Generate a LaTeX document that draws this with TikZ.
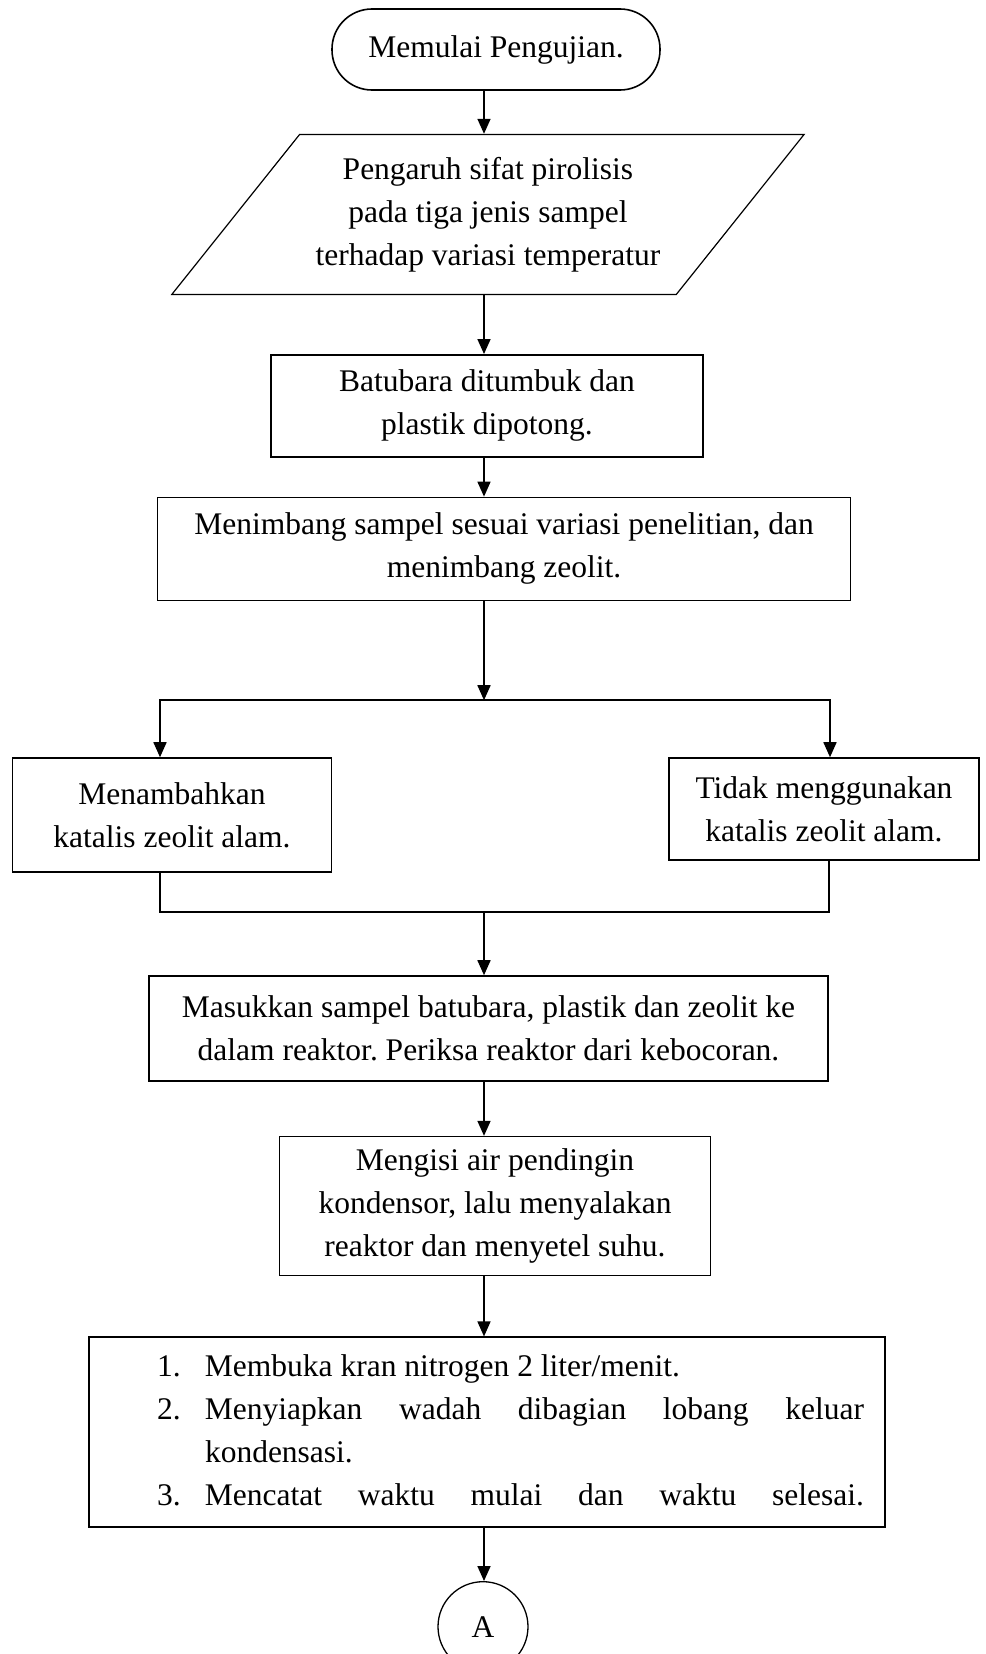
\documentclass[tikz,border=0pt]{standalone}
\usepackage{fontspec}
\setmainfont{Liberation Serif}
\frenchspacing
\usetikzlibrary{arrows.meta, positioning, shapes.geometric}

\begin{document}
\begin{tikzpicture}[
    x=1pt, y=1pt,
    font=\fontsize{31.5pt}{43pt}\selectfont,
    node distance=40pt,
    block/.style={
        rectangle,
        draw,
        line width=1.6pt,
        inner sep=0pt,
        align=center
    },
    term/.style={
        block,
        rounded corners=40pt
    },
    io/.style={
        trapezium,
        trapezium left angle=44.5,
        trapezium right angle=135.5,
        trapezium stretches=true,
        draw,
        line width=1.2pt,
        inner sep=0pt,
        align=center
    },
    conn/.style={
        circle,
        draw,
        line width=1.3pt,
        inner sep=0pt
    },
    arrow/.style={
        -{Triangle[length=15pt,width=13pt]},
        line width=1.6pt
    },
    link/.style={
        line width=1.6pt
    }
]
\useasboundingbox (0,0) rectangle (985,-1654);

% Start and input
\node[term, minimum width=328pt, minimum height=81pt] (start) at (496,-49.5) {Memulai Pengujian.};
\node[io, minimum width=634pt, minimum height=160pt, below=43pt of start, xshift=-8pt] (input) {Pengaruh sifat pirolisis\\pada tiga jenis sampel\\terhadap variasi temperatur};

% Sample preparation
\node[block, minimum width=432pt, minimum height=102pt, below=59pt of input, xshift=-1pt] (tumbuk) {Batubara ditumbuk dan\\plastik dipotong.};
\node[block, minimum width=693pt, minimum height=103pt, below=39pt of tumbuk, xshift=17pt] (timbang) {Menimbang sampel sesuai variasi penelitian, dan\\menimbang zeolit.};

% Catalyst branches
\node[block, minimum width=319pt, minimum height=114pt, below=156pt of timbang, xshift=-332pt] (tambah) {Menambahkan\\katalis zeolit alam.};
\node[block, minimum width=310pt, minimum height=102pt, below=156pt of timbang, xshift=320pt] (tanpa) {Tidak menggunakan\\katalis zeolit alam.};

% Reactor
\node[block, minimum width=679pt, minimum height=105pt, below=374pt of timbang, xshift=-15.5pt] (masuk) {Masukkan sampel batubara, plastik dan zeolit ke\\dalam reaktor. Periksa reaktor dari kebocoran.};
\node[block, minimum width=431pt, minimum height=139pt, below=54pt of masuk, xshift=6.5pt] (isi) {Mengisi air pendingin\\kondensor, lalu menyalakan\\reaktor dan menyetel suhu.};
\node[block, minimum width=796pt, minimum height=190pt, below=60pt of isi, xshift=-8pt] (langkah) {\hspace*{47pt}\begin{tabular}{@{}p{48pt}@{}l@{}}
1. & Membuka kran nitrogen 2 liter/menit.\\
2. & \makebox[659pt][s]{Menyiapkan wadah dibagian lobang keluar}\\
   & kondensasi.\\
3. & \makebox[659pt][s]{Mencatat waktu mulai dan waktu selesai.}
\end{tabular}};

% Off-page connector
\node[conn, minimum size=90pt, below=53pt of langkah, xshift=-4pt] (hubung) {A};

% Arrows
\coordinate (spine) at (484,0);
\path (timbang.south -| spine) ++(0,-99) coordinate (fork);
\path (masuk.north -| spine) ++(0,63) coordinate (join);

\draw[arrow] (start.south -| spine) -- (input.north -| spine);
\draw[arrow] (input.south -| spine) -- (tumbuk.north -| spine);
\draw[arrow] (tumbuk.south -| spine) -- (timbang.north -| spine);
\draw[arrow] (timbang.south -| spine) -- (fork);
\draw[arrow] (fork) -| ([xshift=-12pt]tambah.north);
\draw[arrow] (fork) -| ([xshift=6pt]tanpa.north);
\draw[link] ([xshift=-12pt]tambah.south) |- (join) -| ([xshift=5pt]tanpa.south);
\draw[arrow] (join) -- (masuk.north -| spine);
\draw[arrow] (masuk.south -| spine) -- (isi.north -| spine);
\draw[arrow] (isi.south -| spine) -- (langkah.north -| spine);
\draw[arrow] (langkah.south -| spine) -- (hubung.north -| spine);

\end{tikzpicture}
\end{document}
